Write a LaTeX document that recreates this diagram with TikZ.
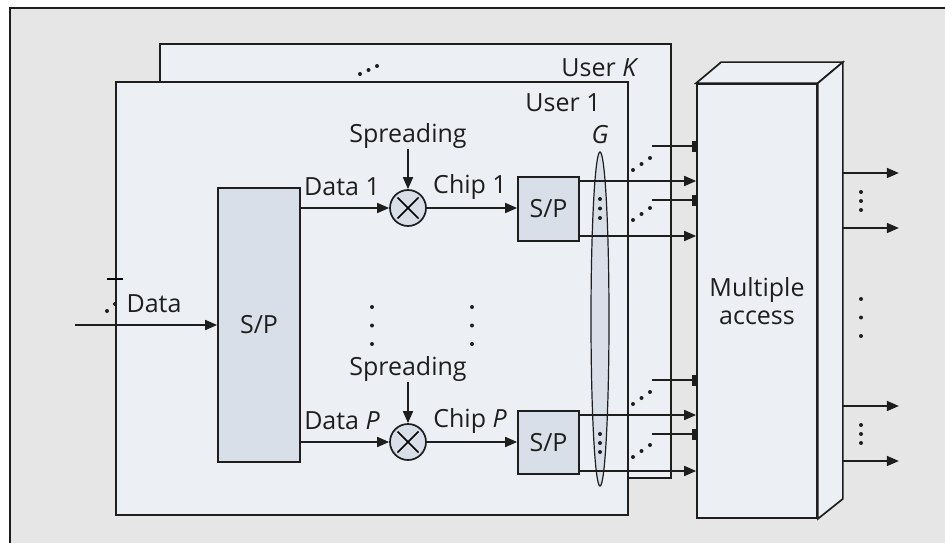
\documentclass[tikz,border=0pt]{standalone}
\usepackage{fontspec}
\setmainfont{Open Sans}
\usetikzlibrary{arrows.meta,calc,positioning,shapes.geometric}
\definecolor{Frame}{HTML}{E6E6E6}
\definecolor{Panel}{HTML}{ECEFF4}
\definecolor{Block}{HTML}{D8DFE8}
\definecolor{Ink}{HTML}{1E1E1E}

\begin{document}
\begin{tikzpicture}[x=1pt,y=-1pt,line width=1.7pt,
      font=\fontsize{25}{28}\selectfont,
      panel/.style={draw=Ink,fill=Panel},
      box/.style={draw=Ink,fill=Block,inner sep=0pt,text=Ink},
      mult/.style={circle,draw=Ink,fill=Block,minimum size=36pt,inner sep=0pt},
      arr/.style={-{Triangle[length=12pt,width=10pt]},draw=Ink},
      tee/.style={-{Rectangle[length=4pt,width=11pt]},draw=Ink},
      lbl/.style={text=Ink,inner sep=0pt}]
      \useasboundingbox (0,0) rectangle (945,543);
      \fill[Frame] (9.5,8) rectangle (945,543);
      \draw[Ink,line width=2pt] (9.5,543) -- (9.5,8) -- (945,8);
      % user panels
      \draw[panel] (160,44) rectangle (671,478);
      \node[lbl] (userK) at (600,68) {User \textit{K}};
      \foreach \p in {(360,74),(368.5,70),(377,66)} \fill[Ink] \p circle (2pt);
      \draw[panel] (116,82) rectangle (628,515);
      \node[lbl] (user1) at (563,103) {User 1};
      % G
      \node[ellipse,draw=Ink,fill=Block,line width=1.2pt,inner sep=0pt,
        minimum width=18pt,minimum height=334pt] (G) at (600,319) {};
      \node[lbl] (glbl) at (600,135) {\textit{G}};
      \foreach \y in {199,208.5,218,434,443,452} \fill[Ink] (600,\y) circle (2pt);
      % multiple access
      \node[panel,minimum width=120pt,minimum height=434pt,align=center,text=Ink] (ma) at (757,301) {Multiple\\access};
      \coordinate (mab) at ($(ma.north east)+(25,-21)$);
      \draw[panel] (ma.north west) -- ++(25,-21) -- (mab) -- (ma.north east) -- cycle;
      \draw[panel] (ma.north east) -- (mab) -- ($(ma.south east)+(25,-20)$) -- (ma.south east) -- cycle;
      % input
      \node[box,minimum width=82pt,minimum height=274pt] (sp) at (259,325) {S/P};
      \coordinate (in) at (75,325);
      \draw[arr] (in) -- (sp);
      \draw (107,279) -- (123,279);
      \fill[Ink] (107,311) circle (2pt) (115,304) circle (2pt);
      \node[lbl] (datain) at (154,304) {Data};
      % branch 1
      \node[mult] (mul1) at (408,208) {};
      \draw[shorten >=4pt,shorten <=4pt] (mul1.north west) -- (mul1.south east);
      \draw[shorten >=4pt,shorten <=4pt] (mul1.north east) -- (mul1.south west);
      \node[lbl] (spr1) at (408,136) {Spreading};
      \draw[arr] (spr1) -- (mul1);
      \node[lbl] (data1) at (342,187) {Data 1};
      \node[lbl] (chip1) at (470,187) {Chip 1};
      \node[box,minimum width=61pt,minimum height=64pt] (sp1) at (548.5,209) {S/P};
      \draw[arr] (sp.east |- mul1) -- (mul1);
      \draw[arr] (mul1) -- (sp1.west |- mul1);
      \draw[arr] (sp1.east |- 0,181) -- (ma.west |- 0,181);
      \draw[arr] (sp1.east |- 0,236) -- (ma.west |- 0,236);
      % branch P
      \node[mult] (mulP) at (408,442) {};
      \draw[shorten >=4pt,shorten <=4pt] (mulP.north west) -- (mulP.south east);
      \draw[shorten >=4pt,shorten <=4pt] (mulP.north east) -- (mulP.south west);
      \node[lbl] (sprP) at (408,369) {Spreading};
      \draw[arr] (sprP) -- (mulP);
      \node[lbl] (dataP) at (342,421) {Data \textit{P}};
      \node[lbl] (chipP) at (470,421) {Chip \textit{P}};
      \node[box,minimum width=61pt,minimum height=63pt] (spP) at (548.5,442.5) {S/P};
      \draw[arr] (sp.east |- mulP) -- (mulP);
      \draw[arr] (mulP) -- (spP.west |- mulP);
      \draw[arr] (spP.east |- 0,415) -- (ma.west |- 0,415);
      \draw[arr] (spP.east |- 0,471) -- (ma.west |- 0,471);
      % other users
      \foreach \y in {146,200,380,434} \draw[tee] (652,\y) -- (ma.west |- 0,\y);
      \foreach \y in {170,220,404,457}
        \foreach \i in {0,1,2} \fill[Ink] (633+8.5*\i,\y-6*\i) circle (2pt);
      \foreach \x in {372,472}
        \foreach \y in {307,325.5,344} \fill[Ink] (\x,\y) circle (2pt);
      % outputs
      \foreach \y in {173,228,406,461} \draw[arr] (mab |- 0,\y) -- ++(56,0);
      \foreach \y in {192,201,210,299,317.5,336,425,434,443} \fill[Ink] (861,\y) circle (2pt);
    \end{tikzpicture}
\end{document}
